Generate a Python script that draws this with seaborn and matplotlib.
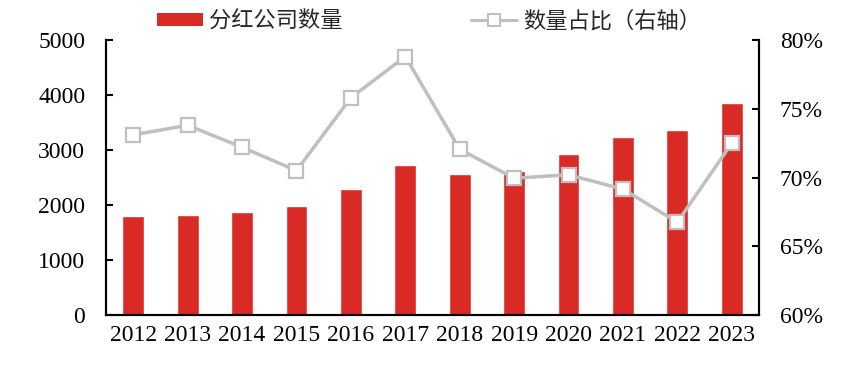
import matplotlib
matplotlib.use("Agg")
import matplotlib.pyplot as plt
import seaborn as sns
import pandas as pd
from matplotlib.patches import Patch
from matplotlib.lines import Line2D
from matplotlib.ticker import FuncFormatter

years = ["2012", "2013", "2014", "2015", "2016", "2017", "2018", "2019", "2020", "2021", "2022", "2023"]
dividend_companies = [1805, 1818, 1867, 1976, 2291, 2727, 2564, 2618, 2921, 3230, 3370, 3860]
share_pct = [73.1, 73.8, 72.2, 70.5, 75.8, 78.8, 72.05, 69.95, 70.2, 69.15, 66.75, 72.5]

bar_label = "分红公司数量"
line_label = "数量占比（右轴）"

sns.set_theme(style="white")
plt.rcParams['font.family'] = ['Liberation Serif', 'DejaVu Serif']

df = pd.DataFrame({"year": years, "count": dividend_companies, "pct": share_pct})

fig = plt.figure(figsize=(8.43, 3.66), dpi=100)
ax = fig.add_axes([106/843, 1-315/366, (759-106)/843, (315-40)/366])

bar_color = "#D92A26"
line_color = "#BFBFBF"

sns.barplot(data=df, x="year", y="count", color=bar_color, width=0.4,
            saturation=1, ax=ax, zorder=2)
ax.set_ylim(0, 5000)
ax.set_yticks([0, 1000, 2000, 3000, 4000, 5000])
ax.set_xlim(-0.5, len(years) - 0.5)
ax.set_xlabel("")
ax.set_ylabel("")

ax2 = ax.twinx()
sns.pointplot(data=df, x="year", y="pct", color=line_color, markers="s",
              linestyles="-", errorbar=None, ax=ax2,
              markerfacecolor="white", markeredgecolor=line_color,
              markersize=10, markeredgewidth=1.6, linewidth=2.5)
ax2.set_ylim(60, 80)
ax2.set_yticks([60, 65, 70, 75, 80])
ax2.yaxis.set_major_formatter(FuncFormatter(lambda v, p: f"{v:.0f}%"))
ax2.set_xlim(-0.5, len(years) - 0.5)
ax2.set_ylabel("")
ax2.set_xlabel("")

for a in (ax, ax2):
    for s in ("left", "right", "bottom"):
        a.spines[s].set_visible(True)
        a.spines[s].set_color("black")
        a.spines[s].set_linewidth(1.5)
    a.spines["top"].set_visible(False)

ax.tick_params(axis="y", direction="in", length=5, width=1.5, pad=15,
               labelsize=17, left=True, colors="black")
ax.tick_params(axis="x", length=0, pad=7, labelsize=17, colors="black")
ax2.tick_params(axis="y", direction="in", length=5, width=1.5, pad=15,
                labelsize=17, right=True, colors="black")
ax2.grid(False)
ax.grid(False)

handles = [
    Patch(facecolor=bar_color, edgecolor="none", label=bar_label),
    Line2D([0], [0], color=line_color, linewidth=2.2, marker="s",
           markerfacecolor="white", markeredgecolor=line_color,
           markersize=9, markeredgewidth=1.5, label=line_label),
]
leg = fig.legend(handles=handles, loc="center", bbox_to_anchor=(429/843, 1-21/366),
                 ncol=2, frameon=False, handlelength=2.07, handleheight=0.5,
                 handletextpad=0.27, columnspacing=5.75,
                 prop={"family": ["Noto Sans CJK SC", "DejaVu Sans"], "size": 16})

fig.savefig("out.png", dpi=100)
